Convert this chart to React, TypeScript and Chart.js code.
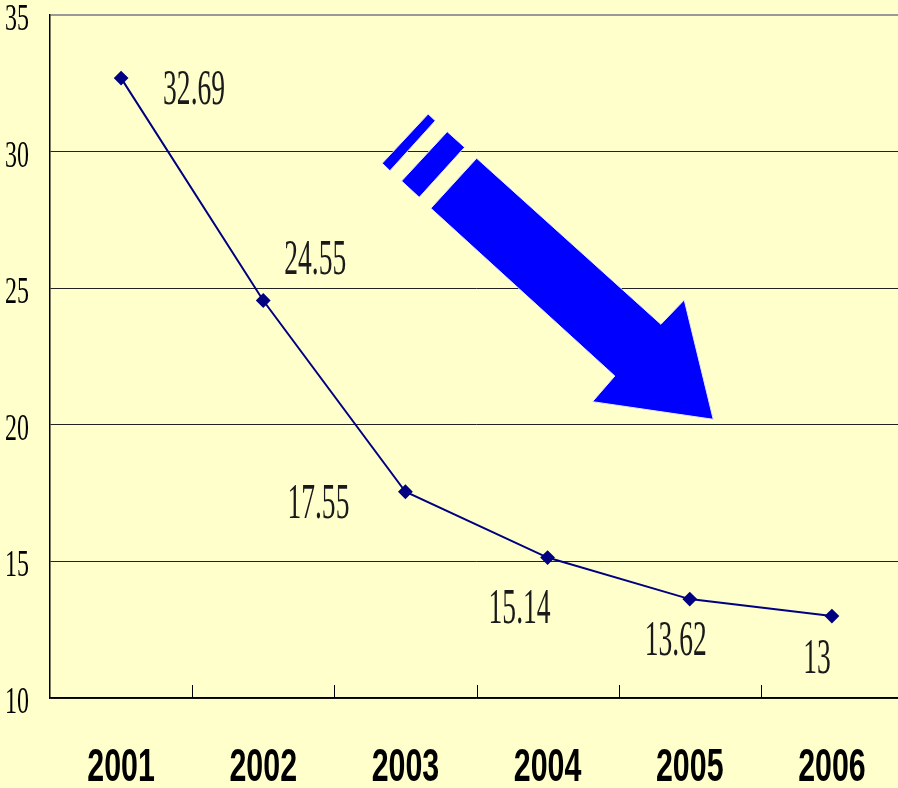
import React, { useEffect, useRef } from 'react';
import { Chart, registerables } from 'chart.js';

Chart.register(...registerables);

const years = ['2001', '2002', '2003', '2004', '2005', '2006'];
const values = [32.69, 24.55, 17.55, 15.14, 13.62, 13];
const valueLabels = ['32.69', '24.55', '17.55', '15.14', '13.62', '13'];
const yTicks = [10, 15, 20, 25, 30, 35];

// label offsets (px) relative to each point
const labelOffsets = [
  [73, 13],
  [52, -40],
  [-87, 13],
  [-28, 52],
  [-14, 43],
  [-15, 44],
];

// decorative arrow, defined in data space: [category index, value]
const arrowMain = [
  [2.501, 29.755],
  [2.179, 27.925],
  [3.473, 21.786],
  [3.316, 20.846],
  [4.165, 20.201],
  [3.961, 24.568],
  [3.797, 23.679],
];
const arrowStripe1 = [
  [2.16, 31.376],
  [2.21, 31.131],
  [1.891, 29.301],
  [1.837, 29.572],
];
const arrowStripe2 = [
  [2.294, 30.728],
  [2.416, 30.157],
  [2.097, 28.327],
  [1.973, 28.924],
];

const drawText = (
  ctx: CanvasRenderingContext2D,
  text: string,
  x: number,
  y: number,
  font: string,
  sx: number,
  color: string,
  align: CanvasTextAlign = 'center'
) => {
  ctx.save();
  ctx.translate(x, y);
  ctx.scale(sx, 1);
  ctx.font = font;
  ctx.fillStyle = color;
  ctx.textAlign = align;
  ctx.textBaseline = 'middle';
  ctx.fillText(text, 0, 0);
  ctx.restore();
};

const decorPlugin = {
  id: 'decor',
  beforeDatasetsDraw(chart: any) {
    const { ctx, scales } = chart;
    const xs = scales.x;
    const ys = scales.y;
    const mapPoly = (poly: number[][]) =>
      poly.map(([i, v]) => [xs.getPixelForValue(i), ys.getPixelForValue(v)]);
    ctx.save();
    [arrowMain, arrowStripe1, arrowStripe2].forEach((poly) => {
      const pts = mapPoly(poly);
      ctx.beginPath();
      pts.forEach(([px, py], k) => (k === 0 ? ctx.moveTo(px, py) : ctx.lineTo(px, py)));
      ctx.closePath();
      ctx.fillStyle = '#0000FF';
      ctx.fill();
      ctx.strokeStyle = '#E4E4FF';
      ctx.lineWidth = 1;
      ctx.stroke();
    });
    ctx.restore();
  },
  afterDraw(chart: any) {
    const { ctx, scales, chartArea } = chart;
    const xs = scales.x;
    const ys = scales.y;
    // inner tick marks at category boundaries
    ctx.save();
    ctx.strokeStyle = '#000';
    ctx.lineWidth = 1;
    const half = (xs.getPixelForValue(1) - xs.getPixelForValue(0)) / 2;
    for (let i = 0; i < years.length - 1; i++) {
      const px = Math.round(xs.getPixelForValue(i) + half) + 0.5;
      ctx.beginPath();
      ctx.moveTo(px, chartArea.bottom);
      ctx.lineTo(px, chartArea.bottom - 13);
      ctx.stroke();
    }
    ctx.restore();
    // y tick labels
    yTicks.forEach((t) => {
      drawText(ctx, String(t), 29, ys.getPixelForValue(t) + 5, '38px "Liberation Serif"', 0.63, '#000', 'right');
    });
    // x labels
    years.forEach((y, i) => {
      drawText(ctx, y, xs.getPixelForValue(i), chartArea.bottom + 70, 'bold 46px "Liberation Sans"', 0.66, '#000');
    });
    // value labels
    const meta = chart.getDatasetMeta(0);
    meta.data.forEach((pt: any, i: number) => {
      const [dx, dy] = labelOffsets[i];
      drawText(ctx, valueLabels[i], pt.x + dx, pt.y + dy, '51px "Liberation Serif"', 0.54, '#1a1a1a');
    });
  },
};

export default function App() {
  const ref = useRef<HTMLCanvasElement>(null);
  useEffect(() => {
    if (!ref.current) return;
    const chart = new Chart(ref.current, {
      type: 'line',
      data: {
        labels: years,
        datasets: [
          {
            data: values,
            borderColor: '#000080',
            backgroundColor: '#000080',
            borderWidth: 2,
            pointStyle: 'rectRot',
            pointRadius: 6,
            pointBackgroundColor: '#000080',
            pointBorderColor: '#000080',
            tension: 0,
          },
        ],
      },
      options: {
        responsive: false,
        animation: false,
        devicePixelRatio: 1,
        layout: { autoPadding: false, padding: { left: 50, top: 15, right: 0, bottom: 90 } },
        plugins: { legend: { display: false }, tooltip: { enabled: false } },
        scales: {
          x: {
            offset: true,
            grid: { display: false },
            ticks: { display: false },
            border: { display: true, color: '#000', width: 1.5 },
            afterFit: (s: any) => {
              s.height = 0;
            },
          },
          y: {
            min: 10,
            max: 35,
            ticks: { display: false, stepSize: 5 },
            grid: {
              drawTicks: false,
              color: (c: any) => (c.tick && c.tick.value === 35 ? '#999' : '#222'),
              lineWidth: (c: any) => (c.tick && c.tick.value === 35 ? 2 : 1),
            },
            border: { display: true, color: '#000', width: 1.5 },
            afterFit: (s: any) => {
              s.width = 0;
            },
          },
        },
      },
      plugins: [decorPlugin],
    });
    return () => chart.destroy();
  }, []);
  return (
    <div
      style={{
        position: 'fixed',
        left: 0,
        top: 0,
        width: 898,
        height: 788,
        overflow: 'hidden',
        background: '#FFFFCC',
      }}
    >
      <canvas ref={ref} width={903} height={788} style={{ display: 'block' }} />
    </div>
  );
}
